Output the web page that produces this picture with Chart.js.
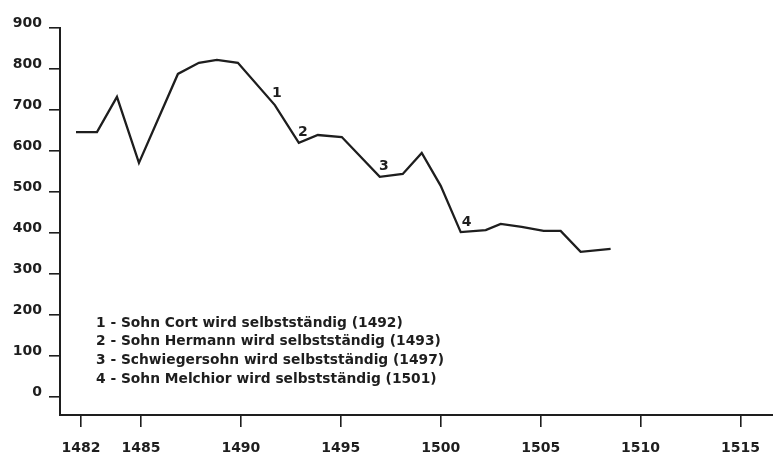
<!DOCTYPE html>
<html>
<head>
<meta charset="utf-8">
<script src="https://cdn.jsdelivr.net/npm/chart.js@4/dist/chart.umd.min.js"></script>
<style>
  html, body { margin: 0; padding: 0; background: #fff; }
  #wrap { width: 773px; height: 455px; position: relative; }
</style>
</head>
<body>
<div id="wrap"><canvas id="c" width="773" height="455"></canvas></div>
<script>
// ---- data ----
const years  = [1481.75, 1482.8, 1483.8, 1484.9, 1486.85, 1487.9, 1488.8, 1489.85, 1491.7, 1492.9, 1493.85, 1495.05, 1496.95, 1498.1, 1499.05, 1500.0, 1501.0, 1502.25, 1503.0, 1504.05, 1505.15, 1506.0, 1507.0, 1508.5];
const values = [646, 646, 732, 571, 788, 815, 822, 815, 712, 620, 639, 634, 537, 544, 595, 515, 402, 407, 422, 415, 405, 405, 354, 361];
const xTicks = [1482, 1485, 1490, 1495, 1500, 1505, 1510, 1515];
const yTicks = [0, 100, 200, 300, 400, 500, 600, 700, 800, 900];
const eventLabels = ['1', '2', '3', '4'];
const eventYears  = [1492, 1493, 1497, 1501];
const noteLines = [
  '1 - Sohn Cort wird selbstständig (1492)',
  '2 - Sohn Hermann wird selbstständig (1493)',
  '3 - Schwiegersohn wird selbstständig (1497)',
  '4 - Sohn Melchior wird selbstständig (1501)'
];

// ---- styles (not data) ----
const INK = '#1e1e1e';
const FONT = 'DejaVu Sans';
const eventOffsets = [[-4, -21], [2, -10], [3, -10], [6, -10]];

function valueAt(year) {
  for (let i = 0; i < years.length - 1; i++) {
    if (year >= years[i] && year <= years[i + 1]) {
      const t = (year - years[i]) / (years[i + 1] - years[i]);
      return values[i] + t * (values[i + 1] - values[i]);
    }
  }
  return values[values.length - 1];
}

const annotations = {
  id: 'annotations',
  afterDatasetsDraw(chart) {
    const { ctx, scales: { x, y }, chartArea } = chart;
    ctx.save();
    ctx.fillStyle = INK;
    ctx.font = `bold 14px "${FONT}"`;
    ctx.textAlign = 'center';
    ctx.textBaseline = 'middle';
    eventLabels.forEach((lab, i) => {
      const px = x.getPixelForValue(eventYears[i]) + eventOffsets[i][0];
      const py = y.getPixelForValue(valueAt(eventYears[i])) + eventOffsets[i][1];
      ctx.fillText(lab, px, py);
    });
    ctx.font = `bold 13.8px "${FONT}"`;
    ctx.textAlign = 'left';
    noteLines.forEach((t, i) => {
      ctx.fillText(t, chartArea.left + 36, 323 + i * 18.7);
    });
    ctx.restore();
  }
};

new Chart(document.getElementById('c'), {
  type: 'line',
  data: {
    datasets: [{
      data: years.map((yr, i) => ({ x: yr, y: values[i] })),
      borderColor: INK,
      borderWidth: 2.3,
      pointRadius: 0,
      tension: 0,
      fill: false
    }]
  },
  options: {
    responsive: false,
    animation: false,
    layout: { padding: { top: 28, right: 0, left: 0, bottom: 0 } },
    plugins: { legend: { display: false }, tooltip: { enabled: false } },
    scales: {
      x: {
        type: 'linear',
        min: 1480.95,
        max: 1516.6,
        afterBuildTicks: s => { s.ticks = xTicks.map(v => ({ value: v })); },
        afterFit: s => { s.height = 40; },
        grid: { drawOnChartArea: false, drawTicks: true, tickLength: 12, color: INK, lineWidth: 1.6 },
        border: { display: true, color: INK, width: 2 },
        ticks: { color: INK, font: { family: FONT, size: 14, weight: 'bold' }, padding: 13, maxRotation: 0, autoSkip: false, callback: v => String(v) }
      },
      y: {
        type: 'linear',
        min: -44,
        max: 900,
        afterBuildTicks: s => { s.ticks = yTicks.map(v => ({ value: v })); },
        afterFit: s => { s.width = 60; },
        grid: { drawOnChartArea: false, drawTicks: true, tickLength: 11, color: INK, lineWidth: 1.6 },
        border: { display: true, color: INK, width: 2 },
        ticks: { color: INK, font: { family: FONT, size: 14, weight: 'bold' }, padding: 7, labelOffset: -5, callback: v => String(v) }
      }
    }
  },
  plugins: [annotations]
});
</script>
</body>
</html>
